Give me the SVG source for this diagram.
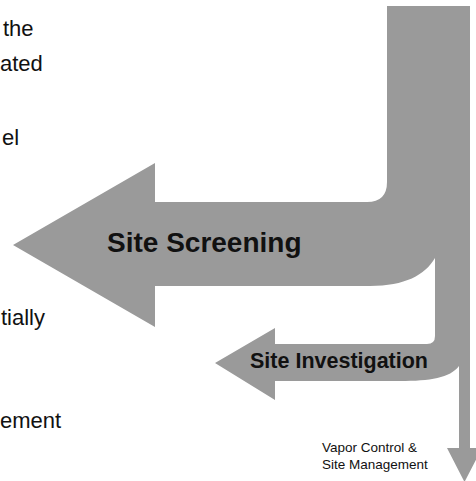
<svg xmlns="http://www.w3.org/2000/svg" width="476" height="481" viewBox="0 0 476 481">
<style>
.flow{fill:#9a9a9a;stroke:none}
.lbl{font-family:"Liberation Sans",Arial,sans-serif;fill:#111}
.b{font-weight:bold}
.side{font-family:"Liberation Sans",Arial,sans-serif;font-size:22px;fill:#111}
</style>
<rect width="476" height="481" fill="#fff"/>
<g id="connectors">
<path class="flow" d="M387,6 L470,6 L470,448 L482,448 L464.5,482 L447,448 L459,448 L459,366 C450,378 430,381 400,381 L275,381 L275,400 L215,363 L275,328 L275,344 L427,344 Q435,344 435,336 L435,258 C425,275 405,286 370,286 L155,286 L155,327 L13,245 L155,163 L155,202 L367,202 Q387,202 387,182 Z"/>
</g>
<g id="side-text">
<text class="side" x="3" y="36">the</text>
<text class="side" x="0" y="71" font-size="21.5">ated</text>
<text class="side" x="2" y="145">el</text>
<text class="side" x="1" y="325">tially</text>
<text class="side" x="0" y="428">ement</text>
</g>
<g id="site-screening">
<text class="lbl b" x="107" y="252" font-size="28">Site Screening</text>
</g>
<g id="site-investigation">
<text class="lbl b" x="250" y="368" font-size="21.5">Site Investigation</text>
</g>
<g id="vapor-control">
<text class="lbl" x="322" y="452" font-size="13.5">Vapor Control &amp;</text>
<text class="lbl" x="322" y="469" font-size="13.5">Site Management</text>
</g>
</svg>
